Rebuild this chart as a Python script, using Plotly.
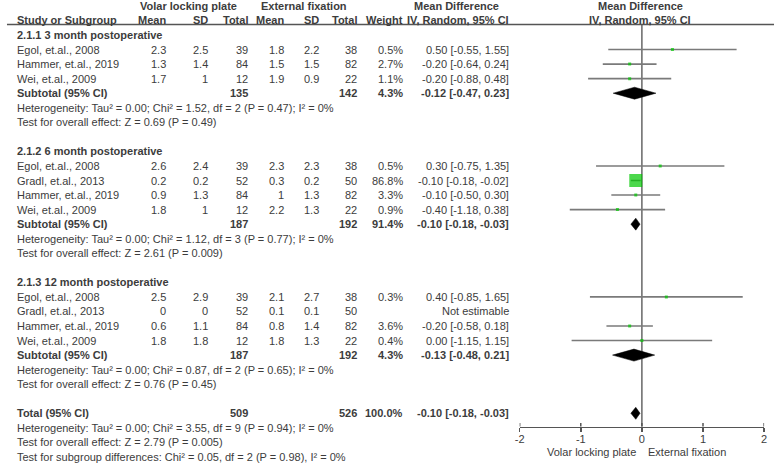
import plotly.graph_objects as go

W, H = 778, 464

# ---------------- data ----------------
group_titles = ["2.1.1 3 month postoperative", "2.1.2 6 month postoperative", "2.1.3 12 month postoperative"]
study_names = [
    ["Egol, et.al., 2008", "Hammer, et.al., 2019", "Wei, et.al., 2009"],
    ["Egol, et.al., 2008", "Gradl, et.al., 2013", "Hammer, et.al., 2019", "Wei, et.al., 2009"],
    ["Egol, et.al., 2008", "Gradl, et.al., 2013", "Hammer, et.al., 2019", "Wei, et.al., 2009"],
]
volar_mean = [[2.3, 1.3, 1.7], [2.6, 0.2, 0.9, 1.8], [2.5, 0, 0.6, 1.8]]
volar_sd = [[2.5, 1.4, 1], [2.4, 0.2, 1.3, 1], [2.9, 0, 1.1, 1.8]]
volar_n = [[39, 84, 12], [39, 52, 84, 12], [39, 52, 84, 12]]
ext_mean = [[1.8, 1.5, 1.9], [2.3, 0.3, 1, 2.2], [2.1, 0.1, 0.8, 1.8]]
ext_sd = [[2.2, 1.5, 0.9], [2.3, 0.2, 1.3, 1.3], [2.7, 0.1, 1.4, 1.3]]
ext_n = [[38, 82, 22], [38, 50, 82, 22], [38, 50, 82, 22]]
weights = [[0.5, 2.7, 1.1], [0.5, 86.8, 3.3, 0.9], [0.3, None, 3.6, 0.4]]
md = [[0.50, -0.20, -0.20], [0.30, -0.10, -0.10, -0.40], [0.40, None, -0.20, 0.00]]
ci_lo = [[-0.55, -0.64, -0.88], [-0.75, -0.18, -0.50, -1.18], [-0.85, None, -0.58, -1.15]]
ci_hi = [[1.55, 0.24, 0.48], [1.35, -0.02, 0.30, 0.38], [1.65, None, 0.18, 1.15]]

sub_volar_n = [135, 187, 187]
sub_ext_n = [142, 192, 192]
sub_weight = [4.3, 91.4, 4.3]
sub_md = [-0.12, -0.10, -0.13]
sub_lo = [-0.47, -0.18, -0.48]
sub_hi = [0.23, -0.03, 0.21]
het_text = [
    "Heterogeneity: Tau² = 0.00; Chi² = 1.52, df = 2 (P = 0.47); I² = 0%",
    "Heterogeneity: Tau² = 0.00; Chi² = 1.12, df = 3 (P = 0.77); I² = 0%",
    "Heterogeneity: Tau² = 0.00; Chi² = 0.87, df = 2 (P = 0.65); I² = 0%",
]
overall_text = [
    "Test for overall effect: Z = 0.69 (P = 0.49)",
    "Test for overall effect: Z = 2.61 (P = 0.009)",
    "Test for overall effect: Z = 0.76 (P = 0.45)",
]
total_volar_n = 509
total_ext_n = 526
total_weight = 100.0
total_md = -0.10
total_lo = -0.18
total_hi = -0.03
total_het = "Heterogeneity: Tau² = 0.00; Chi² = 3.55, df = 9 (P = 0.94); I² = 0%"
total_overall = "Test for overall effect: Z = 2.79 (P = 0.005)"
subgroup_diff = "Test for subgroup differences: Chi² = 0.05, df = 2 (P = 0.98), I² = 0%"

x_ticks = [-2, -1, 0, 1, 2]
favours_left = "Volar locking plate"
favours_right = "External fixation"

# ---------------- layout helpers (pixels) ----------------
ROW0_PX = 35.0
ROW_PX = 14.55
FONT = "Liberation Sans, Arial, sans-serif"
TXT = "#3c3c3c"
FS = 11

def px(x):
    return x / W

def py(y):
    return 1 - y / H

def row_of(y):
    return (y - ROW0_PX) / ROW_PX

annotations = []

def txt(x_px, row, s, anchor="right", bold=False):
    annotations.append(dict(
        x=px(x_px), xref="paper", y=row, yref="y", text=(f"<b>{s}</b>" if bold else s),
        xanchor=anchor, yanchor="middle", showarrow=False,
        font=dict(family=FONT, size=FS, color=TXT),
    ))

COL_NAME = 10
COL_VM, COL_VSD, COL_VN = 165, 207, 248
COL_EM, COL_ESD, COL_EN = 284, 319, 358
COL_W = 404
COL_CI = 511

def fmt(v):
    return f"{v:g}"

def fmt_ci(m, lo, hi):
    return f"{m:.2f} [{lo:.2f}, {hi:.2f}]"

# header
txt(185, -2, "Volar locking plate", "center", True)
txt(302, -2, "External fixation", "center", True)
txt(456, -2, "Mean Difference", "center", True)
txt(642, -2, "Mean Difference", "center", True)
txt(COL_NAME, -1, "Study or Subgroup", "left", True)
txt(COL_VM, -1, "Mean", bold=True)
txt(COL_VSD, -1, "SD", bold=True)
txt(COL_VN, -1, "Total", bold=True)
txt(COL_EM, -1, "Mean", bold=True)
txt(COL_ESD, -1, "SD", bold=True)
txt(COL_EN, -1, "Total", bold=True)
txt(COL_W, -1, "Weight", bold=True)
txt(COL_CI, -1, "IV, Random, 95% CI", bold=True)
txt(642, -1, "IV, Random, 95% CI", "center", True)

traces = []
ci_x, ci_y = [], []
sq_x, sq_y, sq_s = [], [], []
diamonds = []

row = 0
for g in range(3):
    txt(COL_NAME, row, group_titles[g], "left", True)
    row += 1
    for i, name in enumerate(study_names[g]):
        txt(COL_NAME, row, name, "left")
        txt(COL_VM, row, fmt(volar_mean[g][i]))
        txt(COL_VSD, row, fmt(volar_sd[g][i]))
        txt(COL_VN, row, str(volar_n[g][i]))
        txt(COL_EM, row, fmt(ext_mean[g][i]))
        txt(COL_ESD, row, fmt(ext_sd[g][i]))
        txt(COL_EN, row, str(ext_n[g][i]))
        if md[g][i] is None:
            txt(COL_CI, row, "Not estimable")
        else:
            txt(COL_W, row, f"{weights[g][i]:.1f}%")
            txt(COL_CI, row, fmt_ci(md[g][i], ci_lo[g][i], ci_hi[g][i]))
            ci_x += [ci_lo[g][i], ci_hi[g][i], None]
            ci_y += [row, row, None]
            sq_x.append(md[g][i])
            sq_y.append(row)
            sq_s.append(max(3.0, 13.0 * (weights[g][i] / 86.8) ** 0.5))
        row += 1
    txt(COL_NAME, row, "Subtotal (95% CI)", "left", True)
    txt(COL_VN, row, str(sub_volar_n[g]), bold=True)
    txt(COL_EN, row, str(sub_ext_n[g]), bold=True)
    txt(COL_W, row, f"{sub_weight[g]:.1f}%", bold=True)
    txt(COL_CI, row, fmt_ci(sub_md[g], sub_lo[g], sub_hi[g]), bold=True)
    diamonds.append((sub_lo[g], sub_md[g], sub_hi[g], row))
    row += 1
    txt(COL_NAME, row, het_text[g], "left")
    row += 1
    txt(COL_NAME, row, overall_text[g], "left")
    row += 2

txt(COL_NAME, row, "Total (95% CI)", "left", True)
txt(COL_VN, row, str(total_volar_n), bold=True)
txt(COL_EN, row, str(total_ext_n), bold=True)
txt(COL_W, row, f"{total_weight:.1f}%", bold=True)
txt(COL_CI, row, fmt_ci(total_md, total_lo, total_hi), bold=True)
diamonds.append((total_lo, total_md, total_hi, row))
txt(COL_NAME, row + 1, total_het, "left")
txt(COL_NAME, row + 2, total_overall, "left")
txt(COL_NAME, row + 3, subgroup_diff, "left")

# favours labels under axis
for xv, s, anc in [(-0.07, favours_left, "right"), (0.07, favours_right, "left")]:
    annotations.append(dict(
        x=xv, xref="x", y=row_of(452), yref="y", text=s,
        xanchor=anc, yanchor="middle", showarrow=False,
        font=dict(family=FONT, size=FS, color=TXT),
    ))

traces.append(go.Scatter(x=ci_x, y=ci_y, mode="lines",
                         line=dict(color="#7a7a7a", width=1.6), hoverinfo="skip"))
traces.append(go.Scatter(x=sq_x, y=sq_y, mode="markers",
                         marker=dict(symbol="square", size=sq_s, color="#00c800", line=dict(width=0)),
                         hoverinfo="skip"))
half_h = 6.0 / ROW_PX
for lo, m, hi, r in diamonds:
    traces.append(go.Scatter(x=[lo, m, hi, m, lo], y=[r, r - half_h, r, r + half_h, r],
                             mode="lines", fill="toself", fillcolor="black",
                             line=dict(color="black", width=0.5), hoverinfo="skip"))

fig = go.Figure(traces)

AXIS_PX = 426.5
HEAD_LINE_PX = 24.5
AXIS_COL = "#555555"

shapes = [
    dict(type="line", xref="x", x0=0, x1=0, yref="paper",
         y0=py(AXIS_PX), y1=py(HEAD_LINE_PX),
         line=dict(color="#707070", width=1.6), layer="below"),
    dict(type="line", xref="paper", x0=px(2), x1=px(777), yref="paper",
         y0=py(HEAD_LINE_PX), y1=py(HEAD_LINE_PX),
         line=dict(color=AXIS_COL, width=1.5)),
]
# upper half of the crossing tick marks
for t in x_ticks:
    shapes.append(dict(type="line", xref="x", x0=t, x1=t, yref="paper",
                       y0=py(AXIS_PX), y1=py(AXIS_PX - 3.5),
                       line=dict(color=AXIS_COL, width=1.5)))

fig.update_layout(
    width=W, height=H, margin=dict(l=0, r=0, t=0, b=0),
    paper_bgcolor="white", plot_bgcolor="white", showlegend=False,
    annotations=annotations, shapes=shapes,
    xaxis=dict(domain=[px(520), px(767)], range=[-2, 2], tickvals=x_ticks,
               ticktext=[str(t) for t in x_ticks], showline=True, linecolor=AXIS_COL,
               linewidth=1.5, ticks="outside", ticklen=4, tickcolor=AXIS_COL, tickwidth=1.5,
               ticklabelstandoff=-2,
               anchor="free", position=py(AXIS_PX), showgrid=False, zeroline=False,
               tickfont=dict(family=FONT, size=FS, color=TXT), fixedrange=True),
    yaxis=dict(domain=[0, 1], range=[row_of(H), row_of(0)], visible=False, fixedrange=True),
)

# remove the browser's default 8px body margin so the figure fills the window
fig.write_html(
    "out.html",
    config={"displayModeBar": False, "staticPlot": True},
    post_script="document.body.style.margin='0';document.body.style.overflow='hidden';",
)
